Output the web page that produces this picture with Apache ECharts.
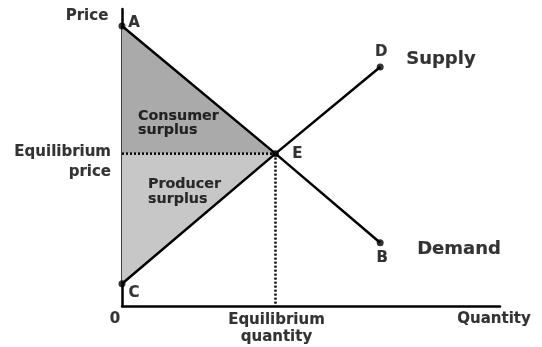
<!DOCTYPE html>
<html>
<head>
<meta charset="utf-8">
<script src="https://cdn.jsdelivr.net/npm/echarts@6/dist/echarts.min.js"></script>
<style>html,body{margin:0;padding:0;background:#fff}#c{width:542px;height:347px}</style>
</head>
<body>
<div id="c"></div>
<script>
// Points on the diagram (quantity, price) in axis units 0..100
const pointNames = ['A', 'B', 'C', 'D', 'E'];
const pointQty   = [0, 68.3, 0, 68.3, 40.6];
const pointPrice = [94.3, 21.3, 7.5, 80.5, 51.3];

// Curves, listed by point name
const demandCurve = ['A', 'E', 'B'];
const supplyCurve = ['C', 'E', 'D'];

// Axis range
const axisMax = [100, 100];

// Texts
const axisTitles = ['Price', 'Quantity', '0'];
const curveTitles = ['Supply', 'Demand'];
const eqLabels = ['Equilibrium\nprice', 'Equilibrium\nquantity'];
const surplusLabels = ['Consumer\nsurplus', 'Producer\nsurplus'];

const P = {};
pointNames.forEach((n, i) => P[n] = [pointQty[i], pointPrice[i]]);
const E = P.E;
const eqPriceAxis = [0, E[1]];
const eqQtyAxis = [E[0], 0];

const FONT = 'DejaVu Sans';
const txt = (size, extra) => Object.assign({
  show: true, position: 'inside', color: '#000', fontFamily: FONT,
  fontWeight: 'bold', fontSize: size, textBorderColor: '#000', textBorderWidth: 0.15
}, extra || {});

const poly = (pts, color) => ({
  type: 'custom', z: 1, silent: true,
  data: [0],
  renderItem: (params, api) => ({
    type: 'polygon',
    shape: { points: pts.map(p => api.coord(p)) },
    style: { fill: color }
  })
});

const line = (pts, extra) => Object.assign({
  type: 'line', data: pts, symbol: 'none', z: 3, silent: true,
  lineStyle: { color: '#000', width: 2.5 }
}, extra || {});

const pointOffsets = { A: [12, -3], B: [2, 15], C: [12, 9], D: [1, -15], E: [22, 0] };

const chart = echarts.init(document.getElementById('c'), null, { renderer: 'canvas' });
chart.setOption({
  animation: false,
  backgroundColor: '#fff',
  grid: { left: 122, right: 42, top: 9, bottom: 41 },
  xAxis: {
    type: 'value', min: 0, max: axisMax[0],
    axisLine: { show: true, onZero: false, lineStyle: { color: '#000', width: 2.5 } },
    axisTick: { show: false }, axisLabel: { show: false }, splitLine: { show: false }
  },
  yAxis: {
    type: 'value', min: 0, max: axisMax[1],
    axisLine: { show: true, onZero: false, lineStyle: { color: '#000', width: 2.5 } },
    axisTick: { show: false }, axisLabel: { show: false }, splitLine: { show: false }
  },
  series: [
    poly([P.A, E, eqPriceAxis], '#aaaaaa'),
    poly([eqPriceAxis, E, P.C], '#c7c7c7'),
    line([eqPriceAxis, E], { lineStyle: { color: '#000', width: 2.5, type: [2, 2] }, z: 2 }),
    line([E, eqQtyAxis], { lineStyle: { color: '#000', width: 2.5, type: [2, 2] }, z: 2 }),
    line(demandCurve.map(n => P[n])),
    line(supplyCurve.map(n => P[n])),
    {
      type: 'scatter', z: 5, silent: true,
      symbolSize: 7, itemStyle: { color: '#000' },
      data: pointNames.map(n => ({
        value: P[n],
        label: txt(15, { formatter: n, offset: pointOffsets[n] })
      }))
    },
    {
      type: 'scatter', z: 6, silent: true, symbolSize: 0,
      data: [
        { value: [0, axisMax[1]], label: txt(15, { formatter: axisTitles[0], offset: [-35, 7] }) },
        { value: [axisMax[0], 0], label: txt(15, { formatter: axisTitles[1], offset: [-6, 13] }) },
        { value: [0, 0], label: txt(15, { formatter: axisTitles[2], offset: [-7, 13] }) },
        { value: P.D, label: txt(18, { formatter: curveTitles[0], align: 'left', offset: [26, -8] }) },
        { value: P.B, label: txt(18, { formatter: curveTitles[1], align: 'left', offset: [37, 7] }) },
        { value: eqPriceAxis, label: txt(15, { formatter: eqLabels[0], align: 'right', lineHeight: 20, offset: [-11, 8] }) },
        { value: eqQtyAxis, label: txt(15, { formatter: eqLabels[1], lineHeight: 17, offset: [1, 23] }) },
        { value: eqPriceAxis, label: txt(14.3, { formatter: surplusLabels[0], align: 'left', lineHeight: 14.5, offset: [16, -30.5] }) },
        { value: eqPriceAxis, label: txt(14.3, { formatter: surplusLabels[1], align: 'left', lineHeight: 14.5, offset: [26, 38] }) }
      ]
    }
  ]
});
</script>
</body>
</html>
